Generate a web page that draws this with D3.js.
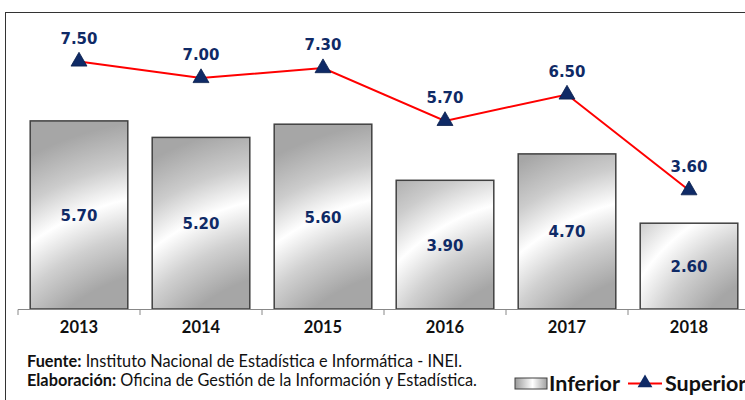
<!DOCTYPE html>
<html><head><meta charset="utf-8">
<script src="https://cdn.jsdelivr.net/npm/d3@7"></script>
<style>body{margin:0;background:#fff}svg{display:block}</style>
</head><body>
<svg id="c" width="745" height="400"></svg>
<script>
const years = ["2013","2014","2015","2016","2017","2018"];
const inferior = [5.70, 5.20, 5.60, 3.90, 4.70, 2.60];
const superior = [7.50, 7.00, 7.30, 5.70, 6.50, 3.60];
const seriesNames = ["Inferior", "Superior"];

const svg = d3.select("#c");
const defs = svg.append("defs");

const x = d3.scaleBand().domain(years).range([18, 750]).paddingInner(0.2).paddingOuter(0.1);
const y = d3.scaleLinear().domain([0, 9]).range([309, 12]);
const navy = "#0f2a66";
const gray = "#a6a6a6";

// per-bar ring gradients (Excel-like path gradient)
years.forEach((d,i)=>{
  const bx = x(d), bw = x.bandwidth(), by = y(inferior[i]), bh = y(0)-y(inferior[i]);
  const cx = bx + 1.55*bw, cy = by + 1.75*bh;
  const r = Math.sqrt((1.55*bw)**2 + (1.1*bh)**2);
  const R = r + 120;
  const g = defs.append("radialGradient").attr("id","bg"+i).attr("gradientUnits","userSpaceOnUse")
    .attr("cx",cx).attr("cy",cy).attr("r",R).attr("fx",cx).attr("fy",cy);
  [[0,gray],[(r-75)/R,gray],[(r-35)/R,"#d0d0d0"],[r/R,"#ffffff"],[(r+35)/R,"#cccccc"],[(r+75)/R,gray],[1,gray]]
    .forEach(([o,c])=>g.append("stop").attr("offset",Math.max(0,o)).attr("stop-color",c));
});
const lgrad = defs.append("linearGradient").attr("id","legGrad");
[[0,"#9a9a9a"],[0.55,"#ffffff"],[1,"#a0a0a0"]]
  .forEach(([o,c])=>lgrad.append("stop").attr("offset",o).attr("stop-color",c));

// frame
svg.append("rect").attr("x",5.5).attr("y",12.5).attr("width",800).attr("height",500)
  .attr("fill","none").attr("stroke","#333").attr("stroke-width",1);

// bars
svg.append("g").selectAll("rect").data(years).join("rect")
  .attr("x", d=>x(d)).attr("width", x.bandwidth())
  .attr("y", (d,i)=>y(inferior[i])).attr("height",(d,i)=>y(0)-y(inferior[i]))
  .attr("fill",(d,i)=>`url(#bg${i})`).attr("stroke","#404040").attr("stroke-width",1.5);

// axis
const step = x.step();
const ax = svg.append("g");
ax.append("line").attr("x1",18).attr("x2",750).attr("y1",309.5).attr("y2",309.5)
  .attr("stroke","#888").attr("stroke-width",1);
d3.range(years.length+1).forEach(i=>{
  const xx = 18 + i*step;
  ax.append("line").attr("x1",xx).attr("x2",xx).attr("y1",309.5).attr("y2",315)
    .attr("stroke","#888");
});
ax.selectAll("text").data(years).join("text")
  .attr("x", d=>x(d)+x.bandwidth()/2).attr("y",333)
  .attr("text-anchor","middle").attr("font-family","Lato, 'Open Sans', sans-serif")
  .attr("font-weight","bold").attr("font-size",16.5).attr("fill","#111").text(d=>d);

// bar labels
svg.append("g").selectAll("text").data(years).join("text")
  .attr("x", d=>x(d)+x.bandwidth()/2)
  .attr("y",(d,i)=>(y(inferior[i])+y(0))/2+6)
  .attr("text-anchor","middle").attr("font-family","Verdana, 'DejaVu Sans', sans-serif")
  .attr("font-weight","bold").attr("font-size",15).attr("fill",navy)
  .text((d,i)=>inferior[i].toFixed(2));

// line
const cxf = d=>x(d)+x.bandwidth()/2;
const line = d3.line().x((d,i)=>cxf(years[i])).y(d=>y(d));
svg.append("path").datum(superior).attr("d",line).attr("fill","none")
  .attr("stroke","#ff0000").attr("stroke-width",2);
const tri = d3.symbol().type(d3.symbolTriangle).size(110);
svg.append("g").selectAll("path").data(superior).join("path")
  .attr("d",tri).attr("transform",(d,i)=>`translate(${cxf(years[i])},${y(d)})`)
  .attr("fill",navy).attr("stroke","#0a1f4d").attr("stroke-width",0.8);
svg.append("g").selectAll("text").data(superior).join("text")
  .attr("x",(d,i)=>cxf(years[i])).attr("y",d=>y(d)-18)
  .attr("text-anchor","middle").attr("font-family","Verdana, 'DejaVu Sans', sans-serif")
  .attr("font-weight","bold").attr("font-size",15).attr("fill",navy)
  .text(d=>d.toFixed(2));

// footer
const f = svg.append("g").attr("font-family","Lato, 'Open Sans', sans-serif").attr("font-size",16.3).attr("fill","#111");
const t1 = f.append("text").attr("x",27).attr("y",367);
t1.append("tspan").attr("font-weight","bold").text("Fuente:");
t1.append("tspan").text(" Instituto Nacional de Estadística e Informática - INEI.");
const t2 = f.append("text").attr("x",27).attr("y",386);
t2.append("tspan").attr("font-weight","bold").text("Elaboración:");
t2.append("tspan").text(" Oficina de Gestión de la Información y Estadística.");

// legend
const lg = svg.append("g");
lg.append("rect").attr("x",515).attr("y",378).attr("width",32).attr("height",11)
  .attr("fill","url(#legGrad)").attr("stroke","#404040").attr("stroke-width",1);
lg.append("text").attr("x",549).attr("y",391).attr("font-family","Lato, 'Open Sans', sans-serif")
  .attr("font-weight","bold").attr("font-size",21.5).attr("fill","#111").text(seriesNames[0]);
lg.append("line").attr("x1",628).attr("x2",662).attr("y1",383.5).attr("y2",383.5)
  .attr("stroke","#ff0000").attr("stroke-width",2);
lg.append("path").attr("d",d3.symbol().type(d3.symbolTriangle).size(95))
  .attr("transform","translate(645,383)").attr("fill",navy);
lg.append("text").attr("x",665).attr("y",391).attr("font-family","Lato, 'Open Sans', sans-serif")
  .attr("font-weight","bold").attr("font-size",21.5).attr("fill","#111").text(seriesNames[1]);
</script>
</body></html>
